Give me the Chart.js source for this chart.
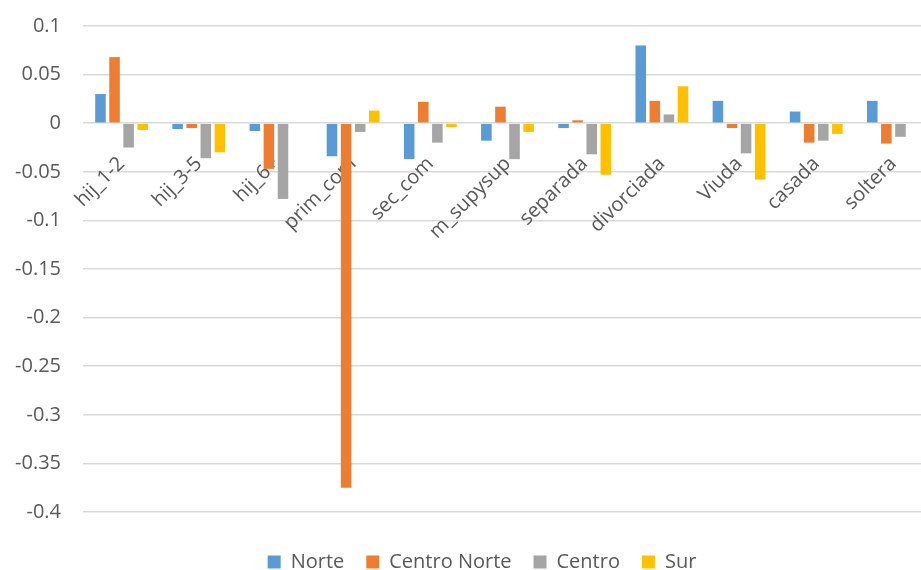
<!DOCTYPE html>
<html lang="es">
<head>
    <meta charset="UTF-8">
    <title>Diferencias por región</title>
    <style>
        body {
            margin: 0;
            padding: 0;
            background-color: #ffffff;
            overflow: hidden;
        }
        /* the plot runs a little past the right and bottom edges of the window */
        #bar-chart {
            display: block;
        }
    </style>
</head>
<body>
    <canvas id="bar-chart" width="932" height="582"></canvas>

    <script src="https://cdn.jsdelivr.net/npm/chart.js"></script>
    <script>
        // Categorías del eje X
        const categories = ['hij_1-2', 'hij_3-5', 'hij_6+', 'prim_com', 'sec_com', 'm_supysup',
                            'separada', 'divorciada', 'Viuda', 'casada', 'soltera'];

        // Valores por región
        const norte       = [0.030, -0.006, -0.008, -0.034, -0.037, -0.018, -0.005, 0.080, 0.023, 0.012, 0.023];
        const centroNorte = [0.068, -0.005, -0.047, -0.375, 0.022, 0.017, 0.003, 0.023, -0.005, -0.020, -0.021];
        const centro      = [-0.025, -0.036, -0.078, -0.009, -0.020, -0.037, -0.032, 0.009, -0.031, -0.018, -0.014];
        const sur         = [-0.007, -0.030, 0, 0.013, -0.004, -0.009, -0.053, 0.038, -0.058, -0.011, 0];

        // Eje Y
        const yMin = -0.4;
        const yMax = 0.1;
        const yStep = 0.05;

        const seriesNames = ['Norte', 'Centro Norte', 'Centro', 'Sur'];
        const seriesColors = ['#5B9BD5', '#ED7D31', '#A5A5A5', '#FFC000'];

        const textColor = '#595959';
        const gridColor = '#D9D9D9';
        const fontFamily = "'Open Sans', sans-serif";

        const datasets = [norte, centroNorte, centro, sur].map((values, i) => ({
            label: seriesNames[i],
            data: values,
            backgroundColor: seriesColors[i],
            borderWidth: 0,
            categoryPercentage: 0.73,
            barPercentage: 0.75
        }));

        // nudge the legend a bit to the right of the canvas centre
        const legendShift = {
            id: 'legendShift',
            afterLayout(chart) {
                chart.legend.left += 16;
                chart.legend.right += 16;
            }
        };

        new Chart(document.getElementById('bar-chart'), {
            type: 'bar',
            data: {
                labels: categories,
                datasets: datasets
            },
            plugins: [legendShift],
            options: {
                responsive: false,
                animation: false,
                layout: {
                    padding: { top: 26, right: 0, bottom: 0, left: 0 }
                },
                plugins: {
                    legend: {
                        position: 'bottom',
                        // empty title only keeps a gap between the plot and the legend row
                        title: {
                            display: true,
                            text: '',
                            font: { size: 1, lineHeight: 1 },
                            padding: { top: 17, bottom: 0 }
                        },
                        labels: {
                            boxWidth: 13,
                            boxHeight: 13,
                            padding: 22,
                            color: textColor,
                            font: { family: fontFamily, size: 20 }
                        }
                    },
                    tooltip: { enabled: false }
                },
                scales: {
                    x: {
                        position: { y: 0 },
                        grid: { display: false },
                        border: { display: false },
                        ticks: {
                            autoSkip: false,
                            minRotation: 45,
                            maxRotation: 45,
                            padding: 21,
                            color: textColor,
                            font: { family: fontFamily, size: 20 }
                        }
                    },
                    y: {
                        min: yMin,
                        max: yMax,
                        grid: {
                            color: gridColor,
                            lineWidth: 1.5,
                            drawTicks: true,
                            tickLength: 22,
                            tickColor: 'rgba(0,0,0,0)'
                        },
                        border: { display: false },
                        ticks: {
                            stepSize: yStep,
                            padding: 0,
                            color: textColor,
                            font: { family: fontFamily, size: 20 },
                            callback: (value) => String(parseFloat(value.toFixed(2)))
                        },
                        afterFit: (scale) => { scale.width = 83; }
                    }
                }
            }
        });
    </script>
</body>
</html>
